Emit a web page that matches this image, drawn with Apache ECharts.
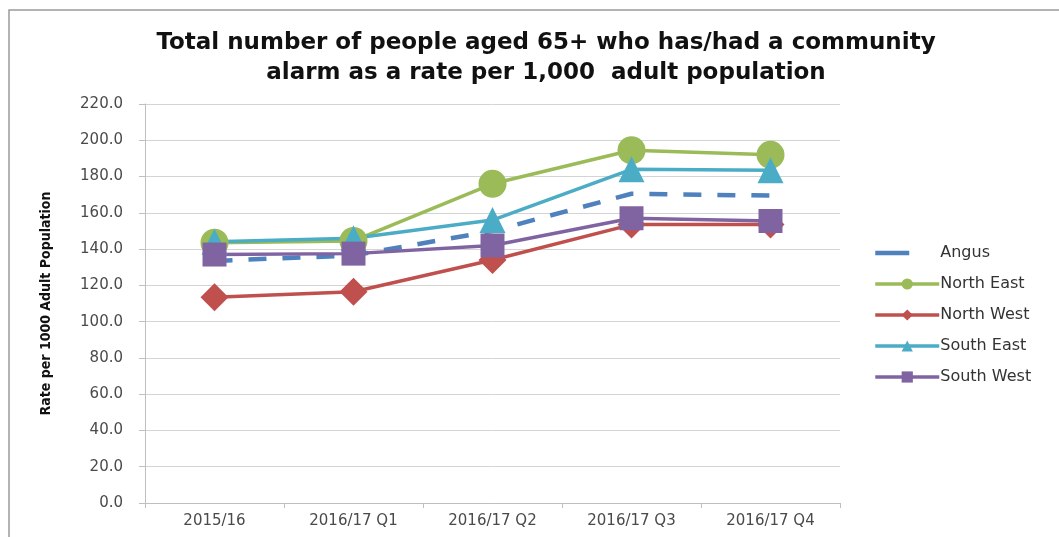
<!DOCTYPE html>
<html>
<head>
<meta charset="utf-8">
<script src="https://cdn.jsdelivr.net/npm/echarts@6/dist/echarts.min.js"></script>
<style>
  html, body { margin: 0; padding: 0; background: #fff; }
  #chart { width: 1059px; height: 537px; }
</style>
</head>
<body>
<div id="chart"></div>
<script>
// Community alarm rate per 1,000 adult population, by locality
const categories = ['2015/16', '2016/17 Q1', '2016/17 Q2', '2016/17 Q3', '2016/17 Q4'];
const angus     = [133.5, 136.5, 150.0, 170.5, 169.5];
const northEast = [143.5, 144.5, 176.0, 194.5, 192.0];
const northWest = [113.5, 116.5, 134.0, 153.5, 153.5];
const southEast = [144.0, 146.0, 156.0, 184.0, 183.5];
const southWest = [137.0, 137.5, 142.0, 157.0, 155.5];
const yTicks = { min: 0, max: 220, interval: 20 };

const FONT = '"DejaVu Sans", sans-serif';
const chart = echarts.init(document.getElementById('chart'));

function line(name, data, color, symbol, size) {
  return {
    name, type: 'line', data,
    symbol, symbolSize: size,
    itemStyle: { color },
    lineStyle: { color, width: 3.5 },
    z: 3
  };
}

chart.setOption({
  animation: false,
  backgroundColor: '#fff',
  textStyle: { fontFamily: FONT },
  title: {
    text: 'Total number of people aged 65+ who has/had a community\nalarm as a rate per 1,000  adult population',
    left: 541, top: 23, textAlign: 'center',
    textStyle: { fontSize: 23, fontWeight: 'bold', color: '#111', lineHeight: 30, fontFamily: FONT }
  },
  grid: { left: 145, right: 219, top: 104, bottom: 34, containLabel: false },
  legend: {
    orient: 'vertical', left: 873, top: 245, itemGap: 15, padding: 0,
    itemWidth: 64, itemHeight: 14,
    lineStyle: { width: 3.5 },
    textStyle: { fontSize: 16, color: '#333', padding: [0, 0, 0, -4], fontFamily: FONT },
    data: [
      { name: 'Angus', itemStyle: { opacity: 0 }, lineStyle: { width: 4.5, type: [34, 100] } },
      'North East', 'North West', 'South East', 'South West'
    ]
  },
  xAxis: {
    type: 'category', data: categories, boundaryGap: true,
    axisLine: { lineStyle: { color: '#bfbfbf' } },
    axisTick: { show: true, length: 5, lineStyle: { color: '#bfbfbf' } },
    axisLabel: { fontSize: 15, color: '#4a4a4a', margin: 11, fontFamily: FONT }
  },
  yAxis: {
    type: 'value', min: yTicks.min, max: yTicks.max, interval: yTicks.interval,
    name: 'Rate per 1000 Adult Population', nameLocation: 'middle', nameGap: 92,
    nameRotate: 90,
    nameTextStyle: { fontSize: 14, fontWeight: 'bold', color: '#111', fontFamily: '"Liberation Sans Narrow", "DejaVu Sans Condensed", sans-serif' },
    axisLine: { show: true, lineStyle: { color: '#bfbfbf' } },
    axisTick: { show: true, length: 6, inside: false, lineStyle: { color: '#bfbfbf' } },
    axisLabel: { fontSize: 15, color: '#4a4a4a', margin: 22, formatter: v => v.toFixed(1), fontFamily: FONT },
    splitLine: { lineStyle: { color: '#d4d4d4', width: 1 } }
  },
  graphic: [
    { type: 'rect', shape: { x: 9, y: 10, width: 1100, height: 600 }, style: { fill: 'none', stroke: '#9a9a9a', lineWidth: 1.5 }, silent: true }
  ],
  series: [
    {
      name: 'Angus', type: 'line', data: angus, symbol: 'none',
      itemStyle: { color: '#4F81BD' },
      lineStyle: { color: '#4F81BD', width: 4.5, type: [18, 16] },
      z: 2
    },
    line('North East', northEast, '#9BBB59', 'circle', 28),
    line('North West', northWest, '#C0504D', 'diamond', 28),
    line('South East', southEast, '#4BACC6', 'triangle', 26),
    line('South West', southWest, '#8064A2', 'rect', 24)
  ]
});
</script>
</body>
</html>
